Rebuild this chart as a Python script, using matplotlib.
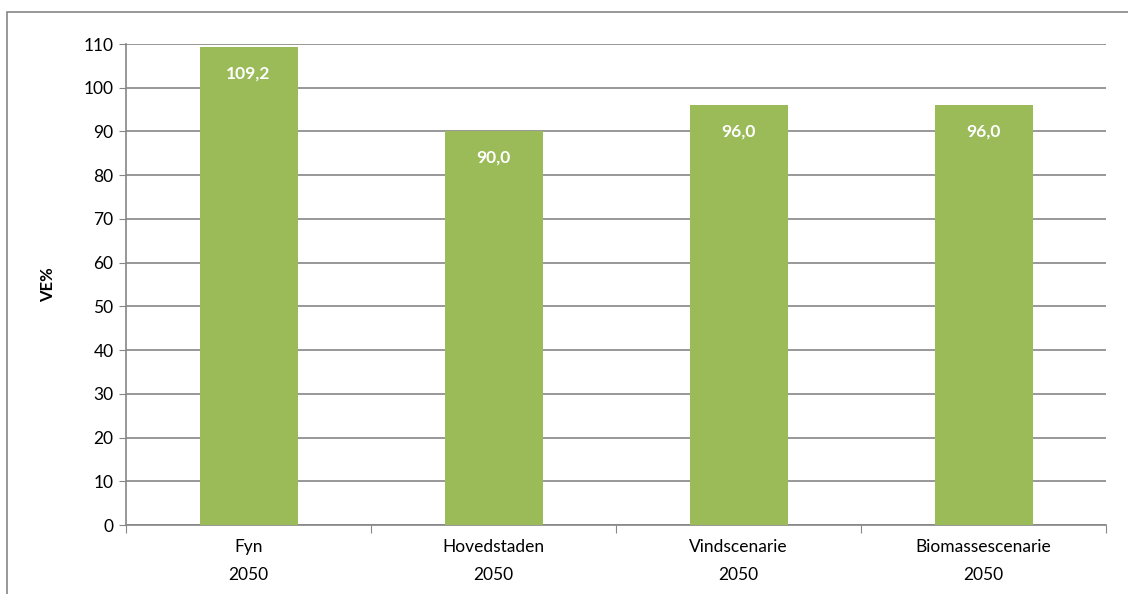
import matplotlib.pyplot as plt
from matplotlib.patches import Rectangle

plt.rcParams['font.family'] = ['Lato', 'DejaVu Sans']

categories = ['Fyn\n2050', 'Hovedstaden\n2050', 'Vindscenarie\n2050', 'Biomassescenarie\n2050']
values = [109.2, 90.0, 96.0, 96.0]
yticks = list(range(0, 111, 10))

fig = plt.figure(figsize=(11.28, 5.94), dpi=100)
ax = fig.add_axes([126/1128, 1 - 525/594, (1106 - 126)/1128, (525 - 44)/594])

# outer chart frame (Excel style)
fig.patches.append(Rectangle((7/1128, -0.1), 1.2, 1 - 12/594 + 0.1, transform=fig.transFigure,
                             fill=False, edgecolor='#868686', linewidth=1.2))

x = range(len(categories))
bars = ax.bar(x, values, width=0.4, color='#9BBB59', zorder=3)

for xi, v in zip(x, values):
    ax.annotate(f'{v:.1f}'.replace('.', ','), (xi, v), xytext=(0, -26), textcoords='offset pixels',
                ha='center', va='center', color='white', fontweight='bold', fontsize=12.5, zorder=4)

ax.set_xlim(-0.5, len(categories) - 0.5)
ax.set_ylim(0, 110)
ax.set_yticks(yticks)
ax.tick_params(axis='y', labelsize=12.5, length=5, color='#868686', pad=4)
ax.yaxis.grid(True, color='#868686', linewidth=1.2, zorder=0)

ax.set_xticks([i - 0.5 for i in range(len(categories) + 1)], minor=False)
ax.set_xticklabels([])
ax.set_xticks(list(x), minor=True)
ax.set_xticklabels(categories, minor=True, fontsize=12.5, linespacing=1.9)
ax.tick_params(axis='x', which='major', length=6, color='#868686')
ax.tick_params(axis='x', which='minor', length=0, pad=10)

for side in ['top', 'right']:
    ax.spines[side].set_visible(False)
for side in ['left', 'bottom']:
    ax.spines[side].set_color('#868686')
    ax.spines[side].set_linewidth(1.2)

ax.set_ylabel('VE%', fontweight='bold', fontsize=12, labelpad=20)

fig.savefig('out.png', dpi=100)
